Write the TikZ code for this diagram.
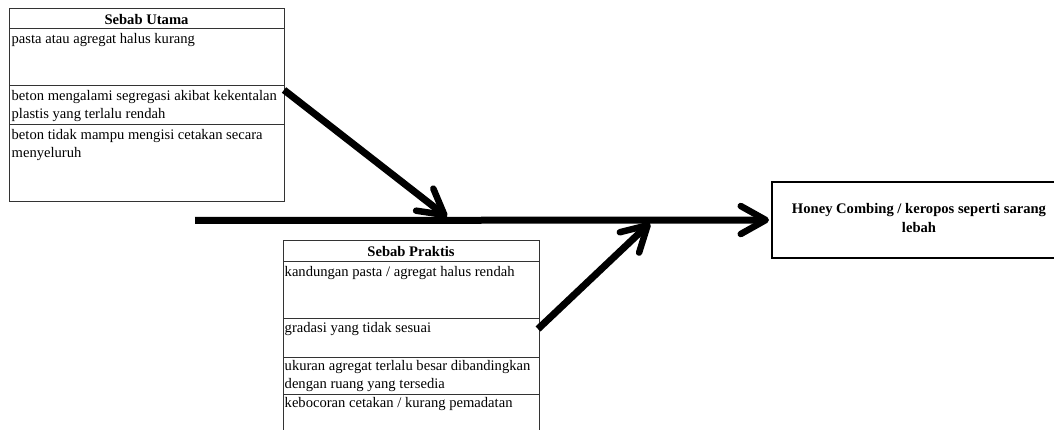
\documentclass[tikz,border=0pt]{standalone}
\usepackage{fontspec}
\setmainfont{Liberation Serif}
\usetikzlibrary{arrows.meta}
\begin{document}
\begin{tikzpicture}[x=1pt,y=-1pt,
  cell/.style={draw=black!80, line width=1pt, rectangle, inner sep=0pt, outer sep=0pt, anchor=north west},
  celltext/.style={anchor=north west, inner sep=0pt, align=left, font=\fontsize{14.6}{18}\selectfont},
  head/.style={inner sep=0pt, font=\fontsize{14.6}{16}\selectfont\bfseries},
  bone/.style={line width=7pt, line cap=butt, -{Straight Barb[length=25pt,width=28pt,line width=6.5pt,round]}},
]
\clip (0,0) rectangle (1054,430);

% cause table: Sebab Utama
\node[cell, minimum width=275pt, minimum height=20pt] (u0) at (9,9) {};
\node[cell, minimum width=275pt, minimum height=57pt] (u1) at (9,29) {};
\node[cell, minimum width=275pt, minimum height=39pt] (u2) at (9,86) {};
\node[cell, minimum width=275pt, minimum height=77pt] (u3) at (9,125) {};
\node[head] (uh) at ([yshift=-1pt]u0.center) {Sebab Utama};
\node[celltext] (ut1) at (11.5,31) {\strut pasta atau agregat halus kurang};
\node[celltext] (ut2) at (11.5,87.5) {\strut beton mengalami segregasi akibat kekentalan\\plastis yang terlalu rendah};
\node[celltext] (ut3) at (11.5,126.5) {\strut beton tidak mampu mengisi cetakan secara\\menyeluruh};

% cause table: Sebab Praktis
\node[cell, minimum width=256pt, minimum height=21pt] (p0) at (283,241) {};
\node[cell, minimum width=256pt, minimum height=56pt] (p1) at (283,262) {};
\node[cell, minimum width=256pt, minimum height=39pt] (p2) at (283,318) {};
\node[cell, minimum width=256pt, minimum height=37pt] (p3) at (283,357) {};
\node[cell, minimum width=256pt, minimum height=70pt] (p4) at (283,394) {};
\node[head] (ph) at (p0.center) {Sebab Praktis};
\node[celltext] (pt1) at (284.5,263.5) {\strut kandungan pasta / agregat halus rendah};
\node[celltext] (pt2) at (284.5,319.5) {\strut gradasi yang tidak sesuai};
\node[celltext] (pt3) at (284.5,358) {\strut ukuran agregat terlalu besar dibandingkan\\dengan ruang yang tersedia};
\node[celltext] (pt4) at (284.5,395) {\strut kebocoran cetakan / kurang pemadatan};

% effect box and its text
\node[draw, line width=2pt, rectangle, minimum width=294pt, minimum height=76pt] (effect) at (919,220) {};
\node[align=center, inner sep=0pt, font=\fontsize{14.6}{19}\selectfont\bfseries]
  (effecttext) at ([yshift=2pt]effect.center) {Honey Combing / keropos seperti sarang\\lebah};

% spine and bones
\coordinate (tail) at (195,220.5);
\coordinate (c1) at (284,90);
\coordinate (j1) at (447,217);
\coordinate (c2) at (538,329);
\coordinate (j2) at (650,223);
\draw[bone] (tail) -- ([xshift=-2pt]effect.west);
\draw[bone] (c1) -- (j1);
\draw[bone] (c2) -- (j2);
\end{tikzpicture}
\end{document}
